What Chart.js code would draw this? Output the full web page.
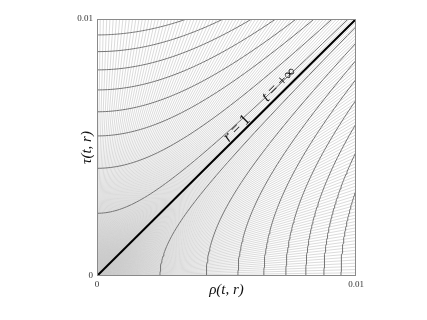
<!DOCTYPE html>
<html>
<head>
<meta charset="utf-8">
<script src="https://cdn.jsdelivr.net/npm/chart.js@4"></script>
<style>
  html, body { margin: 0; padding: 0; background: #fff; }
  #wrap { width: 427px; height: 320px; }
</style>
</head>
<body>
<div id="wrap"><canvas id="grafica"></canvas></div>
<script>
// Datos
const axisMax = 0.01;
const axisTicks = [0, 0.01];
// cortes de las hiperbolas oscuras con el eje rho (abajo) y con el eje tau (arriba)
const cortesRho = [0.00243, 0.00422, 0.00544, 0.00644, 0.00729, 0.00806, 0.00876, 0.00942];
const cortesTau = [0.00244, 0.00419, 0.00545, 0.00639, 0.00724, 0.00802, 0.00873, 0.00938];
// rayos claros (t constante) que salen del origen, por region
const numRayos = 80;
const etiquetas = [
    { partes: [['r', true], [' = 1', false]], rho: 0.00540, tau: 0.00574 },
    { partes: [['t', true], [' = +\u221E', false]], rho: 0.00703, tau: 0.00745 }
];

// Chart.js pinta encima los datasets con indice menor: diagonal primero
const datasets = [];

// Diagonal r = 1
datasets.push({ data: [{ x: 0, y: 0 }, { x: axisMax, y: axisMax }], borderColor: '#000', borderWidth: 2 });

// Hiperbolas oscuras (r constante)
function hiperbola(a, abajo) {
    const pts = [];
    const sMax = Math.acosh(axisMax / a);
    for (let k = 0; k <= 60; k++) {
        const s = sMax * k / 60;
        const u = a * Math.cosh(s), v = a * Math.sinh(s);
        pts.push(abajo ? { x: u, y: v } : { x: v, y: u });
    }
    return pts;
}
cortesRho.forEach(a => datasets.push({ data: hiperbola(a, true), borderColor: '#747474', borderWidth: 1 }));
cortesTau.forEach(a => datasets.push({ data: hiperbola(a, false), borderColor: '#747474', borderWidth: 1 }));

// Rayos claros
for (let i = 0; i < numRayos; i++) {
    const f = axisMax * i / numRayos;
    datasets.push({ data: [{ x: 0, y: 0 }, { x: f, y: axisMax }], borderColor: '#cbcbcb', borderWidth: 0.7 });
    datasets.push({ data: [{ x: 0, y: 0 }, { x: axisMax, y: f }], borderColor: '#cbcbcb', borderWidth: 0.7 });
}

const marco = {
    id: 'marco',
    afterDatasetsDraw(chart) {
        const { ctx, chartArea: ca, scales } = chart;
        ctx.save();
        ctx.strokeStyle = '#8a8a8a';
        ctx.lineWidth = 1;
        ctx.strokeRect(ca.left + 0.5, ca.top + 0.5, ca.right - ca.left - 1, ca.bottom - ca.top - 1);
        // etiquetas sobre la diagonal
        ctx.fillStyle = '#111';
        ctx.textBaseline = 'middle';
        etiquetas.forEach(et => {
            const px = scales.x.getPixelForValue(et.rho);
            const py = scales.y.getPixelForValue(et.tau);
            const fuentes = et.partes.map(p => (p[1] ? 'italic ' : '') + '16px "Liberation Serif", serif');
            let total = 0;
            const anchos = et.partes.map((p, i) => { ctx.font = fuentes[i]; const w = ctx.measureText(p[0]).width; total += w; return w; });
            ctx.save();
            ctx.translate(px, py);
            ctx.rotate(-Math.PI / 4);
            let x = -total / 2;
            et.partes.forEach((p, i) => {
                ctx.font = fuentes[i];
                ctx.fillText(p[0], x, 0);
                x += anchos[i];
            });
            ctx.restore();
        });
        ctx.restore();
    }
};

const ctx = document.getElementById('grafica').getContext('2d');
new Chart(ctx, {
    type: 'scatter',
    data: { datasets: datasets },
    options: {
        responsive: true,
        maintainAspectRatio: false,
        animation: false,
        events: [],
        layout: { padding: { top: 19, right: 71, left: 0, bottom: 0 } },
        elements: { point: { radius: 0 }, line: { tension: 0 } },
        datasets: { scatter: { showLine: true, pointRadius: 0 } },
        plugins: { legend: { display: false }, tooltip: { enabled: false } },
        scales: {
            x: {
                min: 0, max: axisMax,
                afterBuildTicks: s => { s.ticks = axisTicks.map(v => ({ value: v })); },
                afterFit: s => { s.height = 44; },
                grid: { display: false, drawTicks: false, tickLength: 0 },
                border: { display: false },
                ticks: { color: '#333', padding: 3, maxRotation: 0, font: { family: '"Liberation Serif", serif', size: 9 } },
                title: {
                    display: true, text: '\u03C1(t, r)', color: '#111',
                    font: { family: '"Liberation Serif", serif', size: 15, style: 'italic' },
                    padding: { top: 0, bottom: 21 }
                }
            },
            y: {
                min: 0, max: axisMax,
                afterBuildTicks: s => { s.ticks = axisTicks.map(v => ({ value: v })); },
                afterFit: s => { s.width = 97; },
                grid: { display: false, drawTicks: false, tickLength: 0 },
                border: { display: false },
                ticks: { color: '#333', padding: 4, font: { family: '"Liberation Serif", serif', size: 9 } },
                title: {
                    display: true, text: '\u03C4(t, r)', color: '#111',
                    font: { family: '"Liberation Serif", serif', size: 15, style: 'italic' },
                    padding: { top: 78, bottom: 0 }
                }
            }
        }
    },
    plugins: [marco]
});
</script>
</body>
</html>
